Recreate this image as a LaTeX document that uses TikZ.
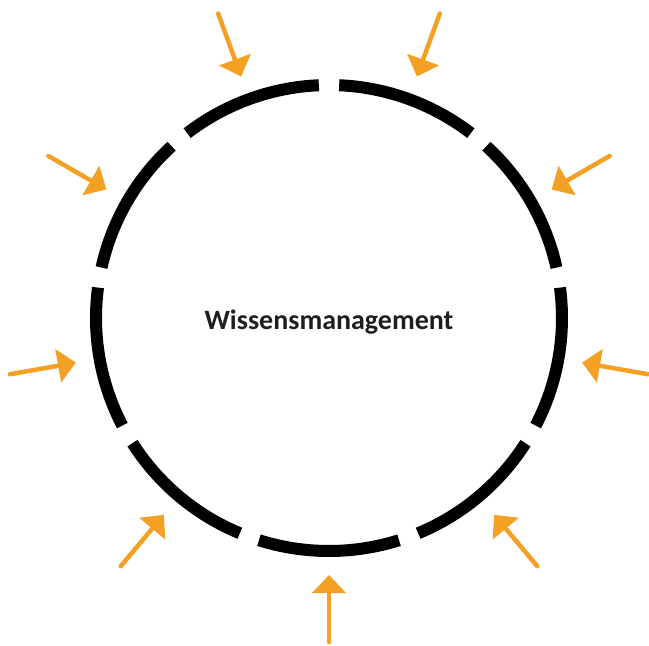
\documentclass[tikz,border=0pt]{standalone}
\usepackage{fontspec}
\setmainfont{Carlito}
\usetikzlibrary{arrows.meta}
\definecolor{arrorange}{RGB}{244,160,36}
\definecolor{txtgray}{RGB}{30,30,30}
\tikzset{
  ringseg/.style={line width=12pt, black, line cap=butt},
  inarrow/.style={arrorange, line width=4.5pt, line cap=round, -{Triangle[length=18pt,width=33pt]}},
  titletext/.style={font=\bfseries\fontsize{28}{32}\selectfont, text=txtgray, inner sep=0pt}
}
\begin{document}
\begin{tikzpicture}[x=1pt,y=1pt]
\useasboundingbox (0,0) rectangle (649,-646);
\coordinate (c) at (329,-318);
\foreach \k in {0,...,8}{
  \pgfmathsetmacro{\sa}{12.5+40*\k}
  \pgfmathsetmacro{\ea}{47.5+40*\k}
  \draw[ringseg] ([shift={(\sa:233)}]c) arc[start angle=\sa, end angle=\ea, radius=233];
  \pgfmathsetmacro{\aa}{30+40*\k}
  \coordinate (t\k) at ([shift={(\aa:324)}]c);
  \coordinate (h\k) at ([shift={(\aa:257)}]c);
  \draw[inarrow] (t\k) -- (h\k);
}
\node[titletext, anchor=base] (title) at (329,-329) {Wissensmanagement};
\end{tikzpicture}
\end{document}
